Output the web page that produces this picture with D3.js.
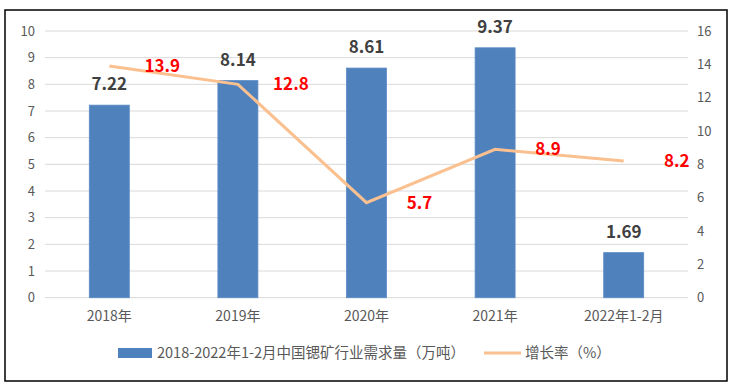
<!DOCTYPE html>
<html><head><meta charset="utf-8">
<script src="https://cdn.jsdelivr.net/npm/d3@7"></script>
<style>body{margin:0;background:#fff;} text{font-family:"Noto Sans CJK SC","Noto Sans",sans-serif;}</style>
</head><body>
<svg id="c" width="736" height="389"></svg>
<script>
const categories = ["2018年","2019年","2020年","2021年","2022年1-2月"];
const demand = [7.22, 8.14, 8.61, 9.37, 1.69];
const growth = [13.9, 12.8, 5.7, 8.9, 8.2];
const leftTicks = [0,1,2,3,4,5,6,7,8,9,10];
const rightTicks = [0,2,4,6,8,10,12,14,16];
const legendLabels = ["2018-2022年1-2月中国锶矿行业需求量（万吨）","增长率（%）"];

const svg = d3.select("#c");
svg.append("rect").attr("x",5).attr("y",10).attr("width",722).attr("height",371)
  .attr("fill","#fff").attr("stroke","#000").attr("stroke-width",1.5);

const m = {l:45, r:688, t:31, b:297.7};
const x = d3.scaleBand().domain(categories).range([m.l, m.r]).paddingInner(0).paddingOuter(0);
const yL = d3.scaleLinear().domain([0,10]).range([m.b, m.t]);
const yR = d3.scaleLinear().domain([0,16]).range([m.b, m.t]);

// grid
svg.append("g").selectAll("line").data(leftTicks).join("line")
  .attr("x1",m.l).attr("x2",m.r).attr("y1",d=>yL(d)).attr("y2",d=>yL(d))
  .attr("stroke","#D9D9D9").attr("stroke-width",1);

// left axis
const axL = d3.axisLeft(yL).tickValues(leftTicks).tickSize(0).tickPadding(10);
const gL = svg.append("g").attr("transform",`translate(${m.l},0)`).call(axL);
gL.select(".domain").remove();
gL.selectAll("text").attr("fill","#595959").style("font-size","13px");

const axR = d3.axisRight(yR).tickValues(rightTicks).tickSize(0).tickPadding(9);
const gR = svg.append("g").attr("transform",`translate(${m.r},0)`).call(axR);
gR.select(".domain").remove();
gR.selectAll("text").attr("fill","#595959").style("font-size","13px");

const axB = d3.axisBottom(x).tickSize(0).tickPadding(13);
const gB = svg.append("g").attr("transform",`translate(0,${m.b})`).call(axB);
gB.select(".domain").remove();
gB.selectAll("text").attr("fill","#595959").style("font-size","14px");

const bw = 40;
svg.append("g").selectAll("rect").data(demand).join("rect")
  .attr("x",(d,i)=>x(categories[i])+x.bandwidth()/2-bw/2)
  .attr("width",bw)
  .attr("y",d=>yL(d)).attr("height",d=>m.b-yL(d))
  .attr("fill","#4F81BD").attr("stroke","#5B8BC6").attr("stroke-width",0.8);

svg.append("g").selectAll("text").data(demand).join("text")
  .attr("x",(d,i)=>x(categories[i])+x.bandwidth()/2)
  .attr("y",d=>yL(d)-15)
  .attr("text-anchor","middle").attr("fill","#404040")
  .style("font-size","17px").style("font-weight","bold")
  .text(d=>d.toFixed(2));

const line = d3.line().x((d,i)=>x(categories[i])+x.bandwidth()/2).y(d=>yR(d));
svg.append("path").datum(growth).attr("d",line)
  .attr("fill","none").attr("stroke","#FAC090").attr("stroke-width",3);

svg.append("g").selectAll("text").data(growth).join("text")
  .attr("x",(d,i)=>x(categories[i])+x.bandwidth()/2+53)
  .attr("y",d=>yR(d)+6)
  .attr("text-anchor","middle").attr("fill","#FF0000")
  .style("font-size","17px").style("font-weight","bold")
  .text(d=>d.toFixed(1));

// legend
const lg = svg.append("g");
lg.append("rect").attr("x",118).attr("y",348).attr("width",34).attr("height",10).attr("fill","#4F81BD");
lg.append("text").attr("x",157).attr("y",358).attr("fill","#595959").style("font-size","14.5px").text(legendLabels[0]);
lg.append("line").attr("x1",484).attr("x2",521).attr("y1",353).attr("y2",353).attr("stroke","#FAC090").attr("stroke-width",3);
lg.append("text").attr("x",525).attr("y",358).attr("fill","#595959").style("font-size","14.5px").text(legendLabels[1]);
</script>
</body></html>
